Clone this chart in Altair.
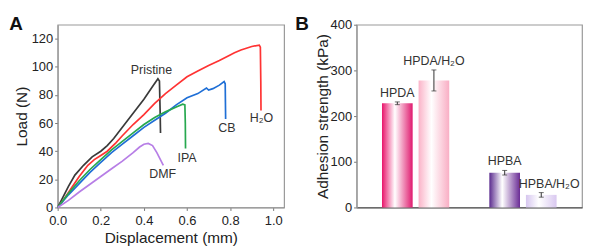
import altair as alt
import pandas as pd

# ---------------- Panel A data: load-displacement curves ----------------
series_names = ["Pristine", "H₂O", "CB", "IPA", "DMF"]
series_colors = ["#3a3a3a", "#ff3333", "#1f6fd6", "#27a84f", "#b77ee6"]

pristine_d = [0, 0.02, 0.05, 0.08, 0.12, 0.16, 0.2, 0.23, 0.26, 0.3, 0.35, 0.4, 0.44, 0.465, 0.472, 0.475, 0.477]
pristine_l = [0, 6, 15, 23, 30, 36, 40, 44, 49, 57, 67, 77, 86, 91.5, 90, 70, 53]

h2o_d = [0, 0.03, 0.06, 0.1, 0.14, 0.17, 0.2, 0.23, 0.27, 0.3, 0.35, 0.4, 0.45, 0.5, 0.55, 0.6, 0.65, 0.7, 0.75, 0.8, 0.82, 0.85, 0.9, 0.935, 0.94, 0.942, 0.943]
h2o_l = [0, 6, 13, 22, 30, 34, 37, 40, 46, 51, 59, 66, 74, 81, 87, 93, 97, 101, 104.5, 108.5, 110, 112, 114.5, 115.5, 114, 90, 69]

cb_d = [0, 0.05, 0.1, 0.15, 0.2, 0.25, 0.3, 0.35, 0.4, 0.45, 0.5, 0.55, 0.6, 0.65, 0.69, 0.70, 0.72, 0.75, 0.772, 0.777, 0.778, 0.779]
cb_l = [0, 9, 17, 25, 32, 39, 45, 51, 57, 62, 67, 73, 78, 81, 85, 83.5, 84.5, 87, 89.5, 88, 75, 63]

ipa_d = [0, 0.05, 0.1, 0.15, 0.2, 0.25, 0.3, 0.35, 0.4, 0.45, 0.5, 0.55, 0.58, 0.59, 0.592, 0.593]
ipa_l = [0, 10, 19, 27, 34, 41, 47, 53, 59, 64, 68, 71.5, 73.5, 73, 60, 42]

dmf_d = [0, 0.05, 0.1, 0.15, 0.2, 0.25, 0.3, 0.35, 0.38, 0.4, 0.42, 0.44, 0.46, 0.48, 0.49]
dmf_l = [0, 5, 11, 16.5, 22, 27.5, 33, 39, 43, 45, 45.5, 44, 39, 33, 30]

# label anchors (data units) for curve names
label_d = [0.435, 0.945, 0.785, 0.60, 0.487]
label_l = [98, 63.5, 56.5, 35.5, 24]

x_ticks = [0, 0.2, 0.4, 0.6, 0.8, 1.0]
y_ticks = [0, 20, 40, 60, 80, 100, 120]

# ---------------- Panel B data: adhesion strength ----------------
bar_names = ["HPDA", "HPDA/H₂O", "HPBA", "HPBA/H₂O"]
bar_groups = ["DA", "DA", "BA", "BA"]
bar_slot = ["dry", "wet", "dry", "wet"]
bar_values = [228, 278, 76, 27.5]
bar_errors = [3, 23, 5, 5]
b_ticks = [0, 100, 200, 300, 400]

FONT = "Arial"

rows = []
for name, ds, ls in zip(series_names, [pristine_d, h2o_d, cb_d, ipa_d, dmf_d],
                        [pristine_l, h2o_l, cb_l, ipa_l, dmf_l]):
    for i, (d, l) in enumerate(zip(ds, ls)):
        rows.append({"series": name, "d": d, "load": l, "i": i})
curves = pd.DataFrame(rows)
labels_a = pd.DataFrame({"series": series_names, "d": label_d, "load": label_l})

xA = alt.X("d:Q", scale=alt.Scale(domain=[0, 1.05], nice=False, zero=False),
           axis=alt.Axis(values=x_ticks, format=".1f", title="Displacement (mm)",
                         grid=False, tickSize=3, labelPadding=4, titlePadding=3,
                         labelFlush=False, labelOverlap=False))
yA = alt.Y("load:Q", scale=alt.Scale(domain=[0, 130], nice=False),
           axis=alt.Axis(values=y_ticks, title="Load (N)", grid=False,
                         tickSize=3, labelPadding=2, titlePadding=2,
                         labelFlush=False, labelOverlap=False))

lines = alt.Chart(curves).mark_line(strokeWidth=1.7).encode(
    x=xA, y=yA,
    color=alt.Color("series:N", scale=alt.Scale(domain=series_names, range=series_colors), legend=None),
    order="i:Q",
)
texts_a = alt.Chart(labels_a).mark_text(font=FONT, fontSize=12.5, color="#333").encode(
    x=xA, y=yA, text="series:N"
)
letter_a = alt.Chart(pd.DataFrame({"t": ["A"]})).mark_text(
    font=FONT, fontSize=19, fontWeight="bold", color="#111", align="center", baseline="top"
).encode(x=alt.value(-42), y=alt.value(-10), text="t:N")

panel_a = alt.layer(lines, texts_a, letter_a).properties(width=228, height=184)

bars_df = pd.DataFrame({
    "name": bar_names, "group": bar_groups, "slot": bar_slot,
    "value": bar_values, "err": bar_errors,
})
bars_df["lo"] = bars_df["value"] - bars_df["err"]
bars_df["hi"] = bars_df["value"] + bars_df["err"]

xB = alt.X("group:N", sort=["DA", "BA"],
           scale=alt.Scale(paddingInner=0.3, paddingOuter=0.2),
           axis=alt.Axis(title=None, labels=False, ticks=False, domainColor="#555"))
xoB = alt.XOffset("slot:N", sort=["dry", "wet"],
                  scale=alt.Scale(paddingInner=0.162, paddingOuter=0.108))
axB = alt.Axis(values=b_ticks, title="Adhesion strength (kPa)", grid=False,
               tickSize=3, labelPadding=2, titlePadding=0,
               labelFlush=False, labelOverlap=False)
scB = alt.Scale(domain=[0, 400], nice=False)
yB = alt.Y("value:Q", scale=scB, axis=axB)
yB_lo = alt.Y("lo:Q", scale=scB, axis=axB)
yB_hi = alt.Y("hi:Q", scale=scB, axis=axB)


def grad(edge_l, edge_r, mid="#ffffff"):
    return alt.LinearGradient(
        gradient="linear", x1=0, x2=1, y1=0, y2=0,
        stops=[alt.GradientStop(color=edge_l, offset=0),
               alt.GradientStop(color=mid, offset=0.42),
               alt.GradientStop(color=edge_r, offset=1)])


fills = {
    "HPDA": grad("#e8146a", "#e01a6e"),
    "HPDA/H₂O": grad("#fbb3c8", "#f9aec4"),
    "HPBA": grad("#5a2a8e", "#6a2b95"),
    "HPBA/H₂O": grad("#d6c6ef", "#d9c8f0"),
}

bar_layers = []
for nm in bar_names:
    bar_layers.append(
        alt.Chart(bars_df).transform_filter(alt.datum.name == nm).mark_bar(fill=fills[nm]).encode(
            x=xB, xOffset=xoB, y=yB)
    )

err_rule = alt.Chart(bars_df).mark_rule(color="#333", strokeWidth=1).encode(
    x=xB, xOffset=xoB, y=yB_lo, y2="hi:Q")
cap_lo = alt.Chart(bars_df).mark_tick(color="#333", size=5, thickness=1, orient="horizontal").encode(
    x=xB, xOffset=xoB, y=yB_lo)
cap_hi = alt.Chart(bars_df).mark_tick(color="#333", size=5, thickness=1, orient="horizontal").encode(
    x=xB, xOffset=xoB, y=yB_hi)

lab_main = alt.Chart(bars_df).transform_filter(alt.datum.name != "HPBA/H₂O").mark_text(
    font=FONT, fontSize=12.5, color="#333", baseline="bottom", dy=-2).encode(
    x=xB, xOffset=xoB, y=yB_hi, text="name:N")
lab_shift = alt.Chart(bars_df).transform_filter(alt.datum.name == "HPBA/H₂O").mark_text(
    font=FONT, fontSize=12.5, color="#333", baseline="bottom", dy=-2, dx=8).encode(
    x=xB, xOffset=xoB, y=yB_hi, text="name:N")

letter_b = alt.Chart(pd.DataFrame({"t": ["B"]})).mark_text(
    font=FONT, fontSize=19, fontWeight="bold", color="#111", align="center", baseline="top"
).encode(x=alt.value(-55), y=alt.value(-10), text="t:N")

panel_b = alt.layer(*bar_layers, err_rule, cap_lo, cap_hi, lab_main, lab_shift, letter_b).properties(
    width=227, height=184)

chart = alt.hconcat(panel_a, panel_b, spacing=9).properties(
    padding={"left": 0, "top": 5, "right": 0, "bottom": 0}
).configure_view(stroke="#999", strokeWidth=1.2).configure_axis(
    labelFont=FONT, titleFont=FONT, labelFontSize=13, titleFontSize=15.5,
    titleFontWeight="normal", labelColor="#222", titleColor="#222",
    domainColor="#999", tickColor="#777", domainWidth=1.2,
)

chart.save("out.html", embed_options={"renderer": "svg", "actions": False})
